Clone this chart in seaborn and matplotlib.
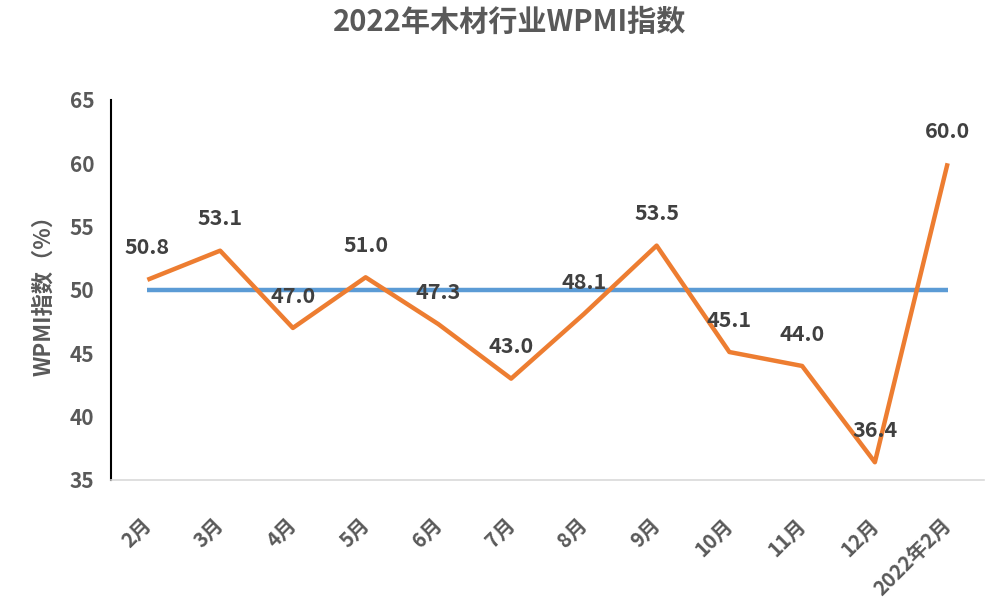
import numpy as np
import pandas as pd
import matplotlib
matplotlib.use("Agg")
import matplotlib.pyplot as plt
import seaborn as sns

# data
months = ["2月", "3月", "4月", "5月", "6月", "7月", "8月", "9月",
          "10月", "11月", "12月", "2022年2月"]
wpmi = [50.8, 53.1, 47.0, 51.0, 47.3, 43.0, 48.1, 53.5, 45.1, 44.0, 36.4, 60.0]
baseline = [50.0] * len(months)

ORANGE = "#ED7D31"
BLUE = "#5B9BD5"
TEXT_DARK = "#404040"
TEXT_GRAY = "#595959"

sns.set_theme(style="white")
plt.rcParams["font.family"] = ["Noto Sans CJK SC", "DejaVu Sans"]
plt.rcParams["axes.unicode_minus"] = False

df = pd.DataFrame({"pos": np.arange(len(months)), "month": months,
                   "wpmi": wpmi, "base": baseline})

fig = plt.figure(figsize=(10, 6.13), dpi=100)
ax = fig.add_axes([0.111, 0.217, 0.873, 0.62])

sns.lineplot(data=df, x="pos", y="base", color=BLUE, linewidth=3.2, ax=ax,
             solid_capstyle="butt")
sns.lineplot(data=df, x="pos", y="wpmi", color=ORANGE, linewidth=3.2, ax=ax,
             solid_capstyle="butt")

for x, v in zip(df["pos"], df["wpmi"]):
    ax.annotate(f"{v:.1f}", (x, v), xytext=(0, 23), textcoords="offset points",
                ha="center", va="center", fontsize=15.5, fontweight="bold",
                color=TEXT_DARK)

ax.set_xlim(-0.5, len(months) - 0.5)
ax.set_ylim(35, 65)
ax.set_yticks(range(35, 66, 5))
ax.set_xticks(df["pos"])
ax.set_xticklabels(months, rotation=45, ha="right", va="center",
                   rotation_mode="anchor")

ax.tick_params(axis="y", direction="in", length=7, width=1.5, color="black",
               labelsize=15, labelcolor=TEXT_GRAY, pad=12)
ax.tick_params(axis="x", length=0, labelsize=14.5, labelcolor=TEXT_GRAY, pad=30)
for lab in ax.get_xticklabels() + ax.get_yticklabels():
    lab.set_fontweight("bold")

ax.set_xlabel("")
ax.set_ylabel("WPMI指数（%）", fontsize=16, fontweight="bold", color=TEXT_GRAY,
              labelpad=10)

sns.despine(ax=ax, top=True, right=True)
ax.spines["left"].set_color("black")
ax.spines["left"].set_linewidth(1.5)
ax.spines["bottom"].set_color("#D9D9D9")
ax.spines["bottom"].set_linewidth(1.2)

fig.text(0.51, 0.964, "2022年木材行业WPMI指数", ha="center", va="center",
         fontsize=21, fontweight="bold", color=TEXT_GRAY)

fig.savefig("out.png", dpi=100)
